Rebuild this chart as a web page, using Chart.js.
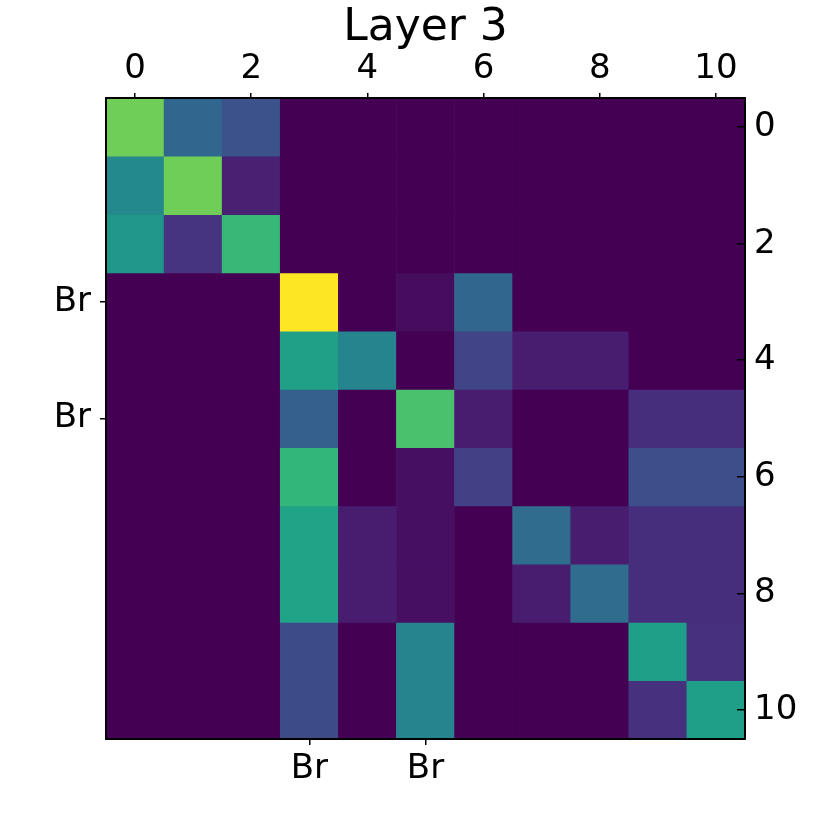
<!DOCTYPE html>
<html>
<head>
<meta charset="utf-8">
<script src="https://cdn.jsdelivr.net/npm/chart.js@4"></script>
<style>
  html, body { margin: 0; padding: 0; background: #fff; }
  #wrap { width: 830px; height: 830px; position: relative; }
</style>
</head>
<body>
<div id="wrap"><canvas id="heatmap"></canvas></div>
<script>
// ===================== Data =====================
const title = 'Layer 3';
const columns = ['0', '1', '2', '3', '4', '5', '6', '7', '8', '9', '10'];
const rows = [0, 1, 2, 3, 4, 5, 6, 7, 8, 9, 10];
const numberTicks = [0, 2, 4, 6, 8, 10];
const brPositions = [3, 5];
const brLabel = 'Br';

// one array per matrix row, values 0..1
const row0 = [0.78, 0.33, 0.25, 0, 0, 0, 0, 0, 0, 0, 0];
const row1 = [0.47, 0.78, 0.09, 0, 0, 0, 0, 0, 0, 0, 0];
const row2 = [0.53, 0.15, 0.67, 0, 0, 0, 0, 0, 0, 0, 0];
const row3 = [0, 0, 0, 1.0, 0, 0.03, 0.33, 0, 0, 0, 0];
const row4 = [0, 0, 0, 0.57, 0.45, 0, 0.2, 0.08, 0.08, 0, 0];
const row5 = [0, 0, 0, 0.3, 0, 0.71, 0.08, 0, 0, 0.13, 0.13];
const row6 = [0, 0, 0, 0.66, 0, 0.04, 0.19, 0, 0, 0.24, 0.24];
const row7 = [0, 0, 0, 0.58, 0.08, 0.04, 0, 0.35, 0.08, 0.13, 0.13];
const row8 = [0, 0, 0, 0.58, 0.08, 0.04, 0, 0.08, 0.35, 0.13, 0.13];
const row9 = [0, 0, 0, 0.23, 0, 0.45, 0, 0, 0, 0.56, 0.14];
const row10 = [0, 0, 0, 0.23, 0, 0.45, 0, 0, 0, 0.14, 0.56];
const matrix = [row0, row1, row2, row3, row4, row5, row6, row7, row8, row9, row10];

// ===================== Viridis colormap =====================
const viridisStops = [
  '#440154', '#471365', '#482475', '#463480', '#414487', '#3b528b',
  '#355f8d', '#2f6c8e', '#2a788e', '#25848e', '#21918c', '#1e9c89',
  '#22a884', '#2fb47c', '#44bf70', '#5ec962', '#7ad151', '#9bd93c',
  '#bddf26', '#dfe318', '#fde725'
];

function hexToRgb(h) {
  return [parseInt(h.slice(1, 3), 16), parseInt(h.slice(3, 5), 16), parseInt(h.slice(5, 7), 16)];
}

function viridis(t) {
  t = Math.max(0, Math.min(1, t));
  const pos = t * (viridisStops.length - 1);
  const i = Math.min(Math.floor(pos), viridisStops.length - 2);
  const f = pos - i;
  const a = hexToRgb(viridisStops[i]);
  const b = hexToRgb(viridisStops[i + 1]);
  const c = a.map(function (v, k) { return Math.round(v + (b[k] - v) * f); });
  return 'rgb(' + c.join(',') + ')';
}

// ===================== Chart =====================
(function () {
  const canvas = document.getElementById('heatmap');
  const font = { family: '"DejaVu Sans", sans-serif', size: 34 };

  // chart area edges in the reference
  const area = { left: 106, right: 745, top: 98, bottom: 739 };
  const titleHeight = 51;

  const datasets = rows.map(function (r) {
    return {
      label: 'row ' + r,
      data: matrix[r].map(function () { return [r - 0.5, r + 0.5]; }),
      backgroundColor: matrix[r].map(viridis),
      borderWidth: 0,
      barPercentage: 1,
      categoryPercentage: 1,
      xAxisID: 'x',
      yAxisID: 'y'
    };
  });

  // grid (tick marks) and border both drawn above the cells, grid first
  function tickGrid(len) {
    return {
      display: true,
      drawOnChartArea: false,
      drawTicks: true,
      tickLength: len,
      lineWidth: 1.5,
      color: '#000',
      offset: false,
      z: 1
    };
  }
  const border = { display: true, color: '#000', width: 2, z: 2 };

  function fixedTicks(list) {
    return function (scale) {
      scale.ticks = list.map(function (v) { return { value: v }; });
    };
  }

  new Chart(canvas, {
    type: 'bar',
    data: { labels: columns, datasets: datasets },
    options: {
      responsive: true,
      maintainAspectRatio: false,
      animation: false,
      layout: { padding: 0 },
      plugins: {
        legend: { display: false },
        tooltip: { enabled: false },
        title: {
          display: true,
          fullSize: false,
          text: title,
          color: '#000',
          font: { family: font.family, size: 44, weight: 'normal', lineHeight: 1 },
          padding: { top: 7, bottom: 0 }
        }
      },
      scales: {
        x: {
          type: 'category',
          position: 'bottom',
          stacked: true,
          offset: true,
          grid: tickGrid(6),
          border: border,
          ticks: {
            color: '#000',
            font: font,
            padding: 4,
            maxRotation: 0,
            autoSkip: false,
            callback: function (v, i) {
              return brPositions.indexOf(i) >= 0 ? brLabel : null;
            }
          },
          afterFit: function (s) { s.height = 830 - area.bottom; }
        },
        xTop: {
          type: 'category',
          position: 'top',
          offset: true,
          grid: tickGrid(5),
          border: border,
          ticks: {
            color: '#000',
            font: font,
            padding: 3,
            maxRotation: 0,
            autoSkip: false,
            callback: function (v, i) {
              return numberTicks.indexOf(i) >= 0 ? columns[i] : null;
            }
          },
          afterFit: function (s) { s.height = area.top - titleHeight; }
        },
        y: {
          type: 'linear',
          position: 'left',
          reverse: true,
          min: -0.5,
          max: 10.5,
          grid: tickGrid(6),
          border: border,
          afterBuildTicks: fixedTicks(brPositions),
          ticks: {
            color: '#000',
            font: font,
            padding: 9,
            callback: function () { return brLabel; }
          },
          afterFit: function (s) { s.width = area.left; }
        },
        yRight: {
          type: 'linear',
          position: 'right',
          reverse: true,
          min: -0.5,
          max: 10.5,
          grid: tickGrid(-8),
          border: border,
          afterBuildTicks: fixedTicks(numberTicks),
          ticks: {
            color: '#000',
            font: font,
            padding: 17,
            callback: function (v) { return String(v); }
          },
          afterFit: function (s) { s.width = 830 - area.right; }
        }
      }
    }
  });
})();
</script>
</body>
</html>
